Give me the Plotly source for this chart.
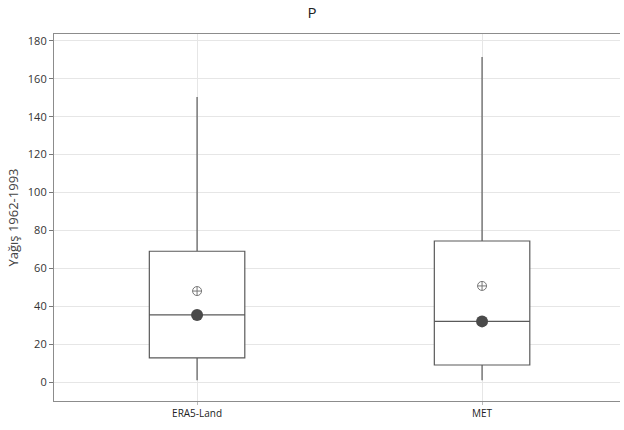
import plotly.graph_objects as go

categories = ["ERA5-Land", "MET"]
q1 = [12.7, 9.0]
median = [35.4, 32.0]
q3 = [69.0, 74.4]
lower = [1.0, 1.0]
upper = [150.4, 171.5]
means = [48.0, 50.7]
y_ticks = [0, 20, 40, 60, 80, 100, 120, 140, 160, 180]

xpos = list(range(len(categories)))
line_c = "#5a5a5a"

fig = go.Figure()
for i, c in enumerate(categories):
    fig.add_trace(go.Box(
        x=[xpos[i]], q1=[q1[i]], median=[median[i]], q3=[q3[i]],
        lowerfence=[lower[i]], upperfence=[upper[i]],
        width=0.335, whiskerwidth=0, fillcolor="white",
        line=dict(color=line_c, width=1.2), boxpoints=False,
        showlegend=False, name=c, hoverinfo="skip",
    ))

fig.add_trace(go.Scatter(
    x=xpos, y=means, mode="markers",
    marker=dict(symbol="circle-cross-open", size=9, color="#777777", line=dict(width=1)),
    showlegend=False,
))
fig.add_trace(go.Scatter(
    x=xpos, y=median, mode="markers",
    marker=dict(symbol="circle", size=12, color="#4a4a4a"),
    showlegend=False,
))

fig.update_layout(
    width=624, height=430,
    margin=dict(l=54, r=4, t=34, b=29),
    paper_bgcolor="white", plot_bgcolor="white",
    font=dict(family="Open Sans, DejaVu Sans, sans-serif", color="#333333"),
    title=dict(text="P", x=0.5, xanchor="center", y=0.982, yanchor="top",
               font=dict(size=15, color="#222222")),
    xaxis=dict(
        range=[-0.502, 1.484], tickvals=xpos, ticktext=categories,
        showgrid=True, gridcolor="#e6e6e6", gridwidth=1,
        showline=True, linecolor="#8c8c8c", linewidth=1.2, mirror=True,
        ticks="outside", ticklen=3, tickcolor="#bbbbbb",
        tickfont=dict(size=10, color="#222222"), zeroline=False,
    ),
    yaxis=dict(
        range=[-10, 183.6], tickvals=y_ticks,
        showgrid=True, gridcolor="#e6e6e6", gridwidth=1,
        showline=True, linecolor="#8c8c8c", linewidth=1.2,
        ticks="outside", ticklen=4, tickcolor="#777777",
        tickfont=dict(size=11, color="#333333"), zeroline=False,
        title=dict(text="Yağış 1962-1993", font=dict(size=13, color="#444444"), standoff=6),
    ),
)

fig.write_html("out.html")
